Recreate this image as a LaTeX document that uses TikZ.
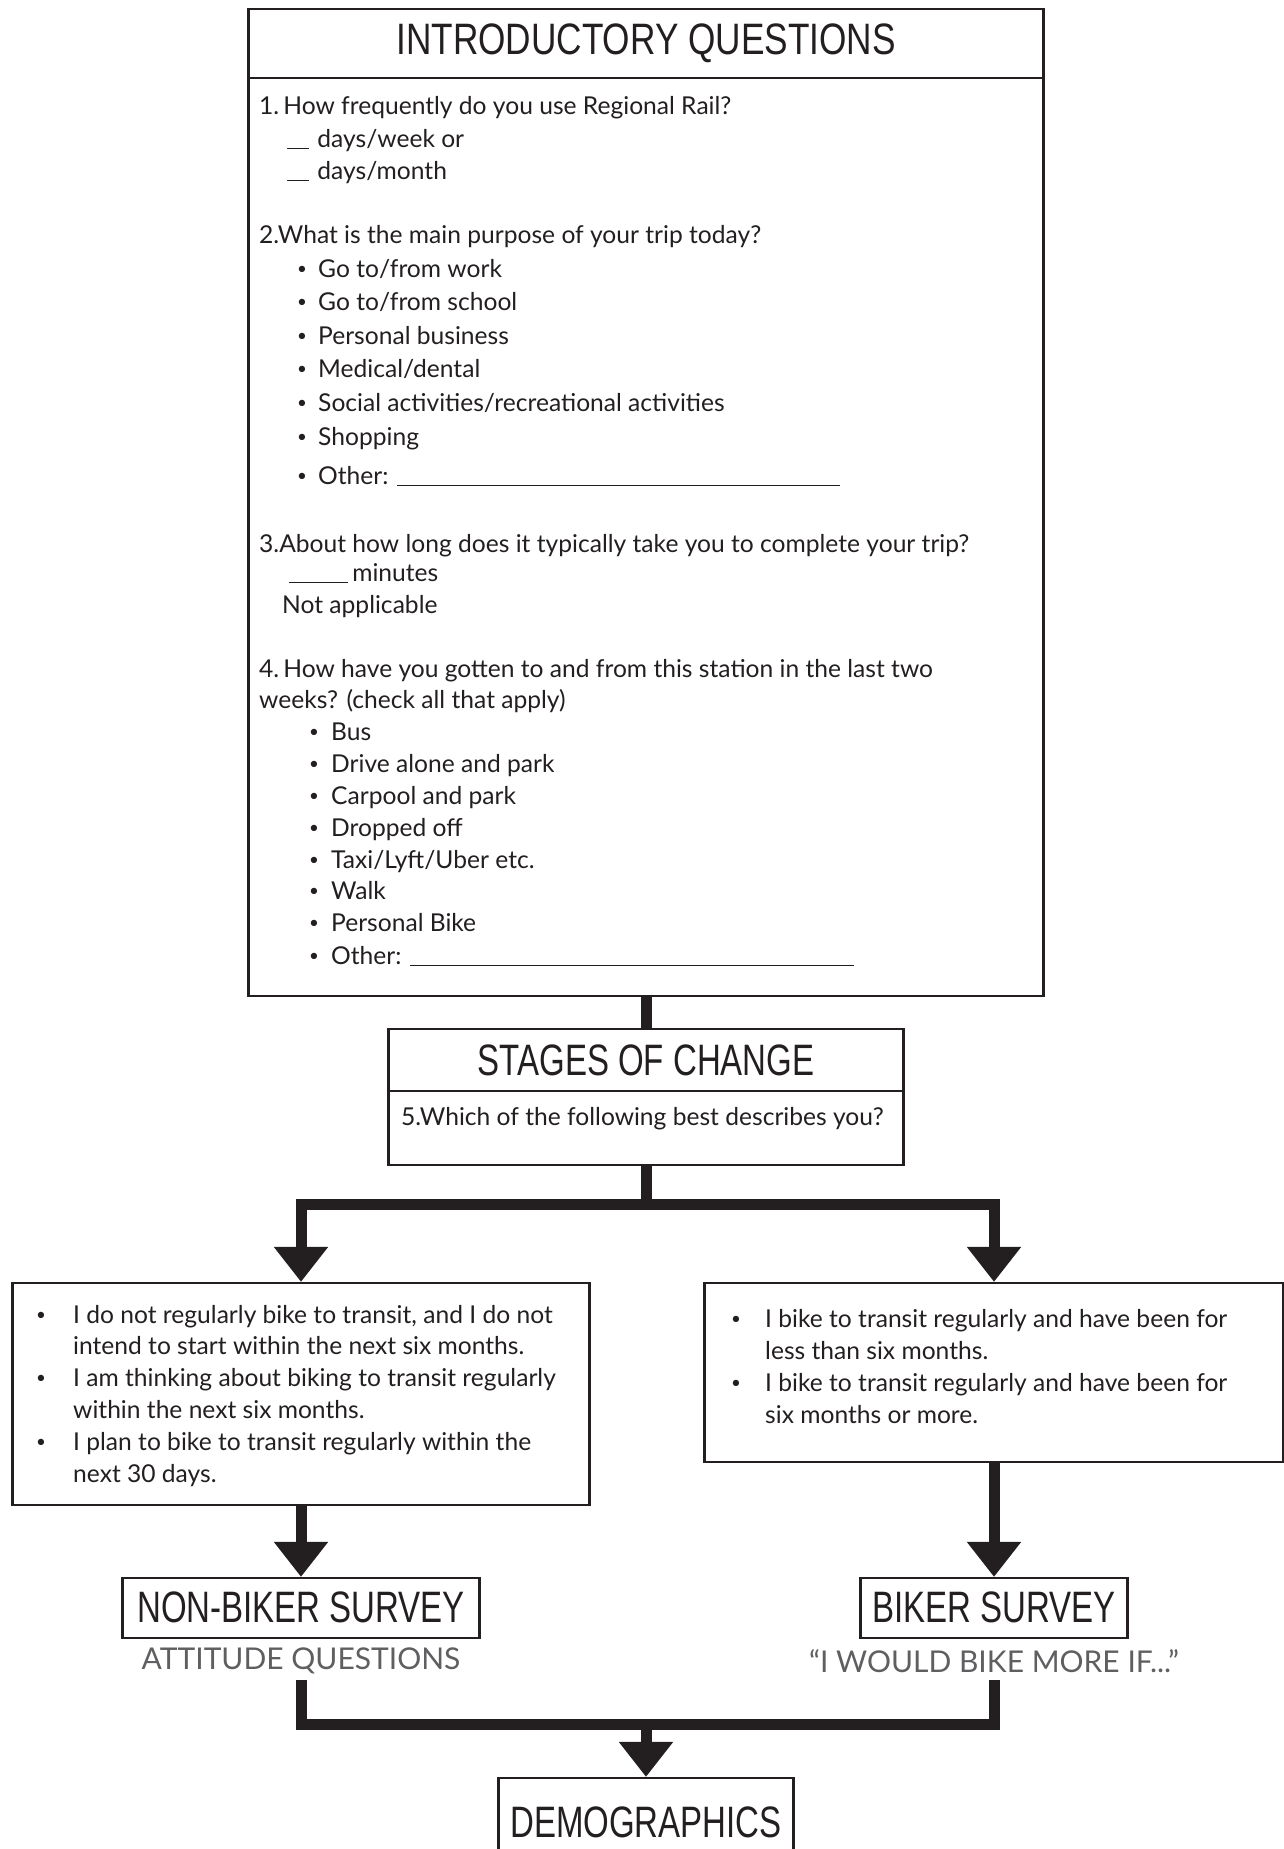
\documentclass[tikz,border=0pt]{standalone}
\usepackage{fontspec}
\setmainfont{Lato}
\newfontfamily\headfont[FakeStretch=0.8]{Liberation Sans}
\newfontfamily\headfontn[FakeStretch=0.75]{Liberation Sans}
\usetikzlibrary{arrows.meta}
\definecolor{ink}{RGB}{35,31,32}
\definecolor{labgray}{RGB}{95,95,98}
\begin{document}
\begin{tikzpicture}[x=1pt,y=-1pt,
  box/.style={draw=ink, line width=2.2pt, rectangle, inner sep=0pt},
  divider/.style={draw=ink, line width=2.2pt},
  head/.style={font=\headfont\fontsize{44}{44}\selectfont, text=ink, inner sep=0pt},
  headn/.style={font=\headfontn\fontsize{44}{44}\selectfont, text=ink, inner sep=0pt},
  body/.style={font=\fontsize{24.6}{30}\selectfont, text=ink, inner sep=0pt, anchor=base west},
  bul/.style={font=\fontsize{17}{20}\selectfont, text=ink, inner sep=0pt, anchor=base, yshift=2.6pt},
  conn/.style={draw=ink, line width=11pt, line join=miter},
  tip/.style={-{Triangle[width=52pt,length=35pt]}},
  lab/.style={font=\fontsize{30}{30}\selectfont, text=labgray, inner sep=0pt, minimum height=38pt}
]
\useasboundingbox (0,0) rectangle (1284,1849);

% ---------- introductory box ----------
\node[box, minimum width=795pt, minimum height=987pt] (intro) at (646,502.5) {};
\draw[divider] (intro.west |- 0,78) -- (intro.east |- 0,78);
\node[head] (introhead) at (646,43) {INTRODUCTORY QUESTIONS};

\node[body] (q1)  at (259,115) {1.\,How frequently do you use Regional Rail?};
\node[body] (q1a) at (287,147) {\rule[-2pt]{22pt}{1.3pt}\,\,days/week or};
\node[body] (q1b) at (287,179) {\rule[-2pt]{22pt}{1.3pt}\,\,days/month};

\node[body] (q2)  at (259,243) {2.What is the main purpose of your trip today?};
\node[bul] (b21) at (302,277) {•}; \node[body] (q21) at (318,277) {Go to/from work};
\node[bul] (b22) at (302,310) {•}; \node[body] (q22) at (318,310) {Go to/from school};
\node[bul] (b23) at (302,344) {•}; \node[body] (q23) at (318,344) {Personal business};
\node[bul] (b24) at (302,377) {•}; \node[body] (q24) at (318,377) {Medical/dental};
\node[bul] (b25) at (302,411) {•}; \node[body] (q25) at (318,411) {Social activities/recreational activities};
\node[bul] (b26) at (302,445) {•}; \node[body] (q26) at (318,445) {Shopping};
\node[bul] (b27) at (302,484) {•}; \node[body] (q27) at (318,484) {Other: \rule[-2pt]{443pt}{1.3pt}};

\node[body] (q3)  at (259,552) {3.About how long does it typically take you to complete your trip?};
\node[body] (q3a) at (289,581) {\rule[-2pt]{59pt}{1.3pt}\,minutes};
\node[body] (q3b) at (282,613) {Not applicable};

\node[body] (q4)  at (259,677) {4.\,How have you gotten to and from this station in the last two};
\node[body] (q4x) at (259,708) {weeks? (check all that apply)};
\node[bul] (b41) at (314,740) {•}; \node[body] (q41) at (331,740) {Bus};
\node[bul] (b42) at (314,772) {•}; \node[body] (q42) at (331,772) {Drive alone and park};
\node[bul] (b43) at (314,804) {•}; \node[body] (q43) at (331,804) {Carpool and park};
\node[bul] (b44) at (314,836) {•}; \node[body] (q44) at (331,836) {Dropped off};
\node[bul] (b45) at (314,868) {•}; \node[body] (q45) at (331,868) {Taxi/Lyft/Uber etc.};
\node[bul] (b46) at (314,899) {•}; \node[body] (q46) at (331,899) {Walk};
\node[bul] (b47) at (314,931) {•}; \node[body] (q47) at (331,931) {Personal Bike};
\node[bul] (b48) at (314,964) {•}; \node[body] (q48) at (331,964) {Other: \rule[-2pt]{444pt}{1.3pt}};

% ---------- stages of change ----------
\node[box, minimum width=515pt, minimum height=136pt] (stage) at (646,1097) {};
\draw[divider] (stage.west |- 0,1091) -- (stage.east |- 0,1091);
\node[headn] (stagehead) at (646,1060) {STAGES OF CHANGE};
\node[body] (q5) at (401,1125) {5.Which of the following best describes you?};

% ---------- branch boxes ----------
\node[box, minimum width=577pt, minimum height=222pt] (left) at (301,1394) {};
\node[bul] (l1b) at (41,1323) {•}; \node[body] (l1) at (73,1323) {I do not regularly bike to transit, and I do not};
\node[body] (l1c) at (73,1354) {intend to start within the next six months.};
\node[bul] (l2b) at (41,1386) {•}; \node[body] (l2) at (73,1386) {I am thinking about biking to transit regularly};
\node[body] (l2c) at (73,1418) {within the next six months.};
\node[bul] (l3b) at (41,1450) {•}; \node[body] (l3) at (73,1450) {I plan to bike to transit regularly within the};
\node[body] (l3c) at (73,1482) {next 30 days.};

\node[box, minimum width=579pt, minimum height=179pt] (right) at (994,1372.5) {};
\node[bul] (r1b) at (736,1327) {•}; \node[body] (r1) at (765,1327) {I bike to transit regularly and have been for};
\node[body] (r1c) at (765,1359) {less than six months.};
\node[bul] (r2b) at (736,1391) {•}; \node[body] (r2) at (765,1391) {I bike to transit regularly and have been for};
\node[body] (r2c) at (765,1423) {six months or more.};

% ---------- surveys ----------
\node[box, minimum width=357pt, minimum height=60pt] (nonb) at (301,1608) {};
\node[headn] (nonbt) at (301,1607) {NON-BIKER SURVEY};
\node[lab] (att) at (301,1661) {ATTITUDE QUESTIONS};

\node[box, minimum width=267pt, minimum height=60pt] (biker) at (994,1608) {};
\node[headn] (bikert) at (994,1607) {BIKER SURVEY};
\node[lab] (quote) at (994,1661) {“I WOULD BIKE MORE IF...”};

\node[box, minimum width=295pt, minimum height=92pt] (demo) at (646,1824) {};
\node[headn] (demot) at (646,1822) {DEMOGRAPHICS};

% ---------- connectors ----------
\coordinate (j1) at (646,1204);
\coordinate (j2) at (646,1724);
\draw[conn] (intro.south) -- (stage.north);
\draw[conn] (stage.south) -- (j1);
\draw[conn, {Triangle[width=52pt,length=35pt]}-{Triangle[width=52pt,length=35pt]}] (left.north) |- (j1) -| (right.north);
\draw[conn, tip] (left.south) -- (nonb.north);
\draw[conn, tip] (right.south) -- (biker.north);
\draw[conn] (att.south) |- (j2) -| (quote.south);
\draw[conn, tip] (j2) -- (demo.north);
\end{tikzpicture}
\end{document}
